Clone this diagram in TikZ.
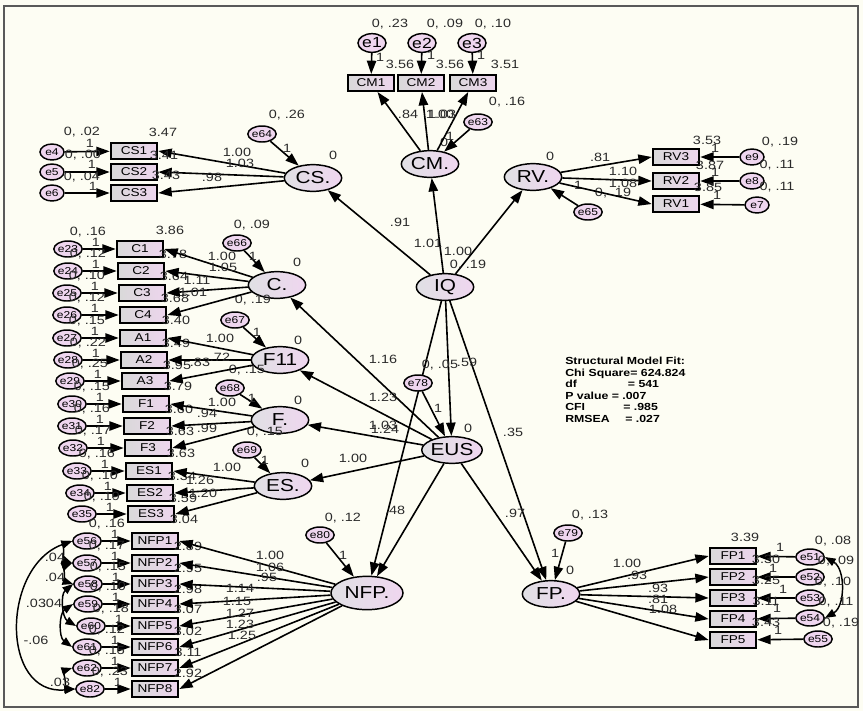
\documentclass[tikz,border=0pt]{standalone}
\usepackage{fontspec}
\setmainfont[FakeStretch=1.2]{Liberation Sans}
\usetikzlibrary{arrows.meta,shapes.geometric}
\definecolor{bgcream}{HTML}{FDFDF3}
\definecolor{boxgray}{HTML}{D9D9D9}
\definecolor{boxpink}{HTML}{EDD5ED}
\definecolor{latgray}{HTML}{E0E0E4}
\definecolor{latpink}{HTML}{EFD6EF}
\definecolor{numgray}{HTML}{2A2A2A}
\tikzset{
  regarrow/.style={-{Triangle[length=10pt,width=7pt]}, line width=1.2pt},
  covarrow/.style={{Triangle[length=8pt,width=6pt]}-{Triangle[length=8pt,width=6pt]}, line width=1.1pt},
  obsbox/.style={draw, line width=1.5pt, left color=boxgray, right color=boxpink, minimum width=35pt, minimum height=12pt, inner sep=0pt, font=\fontsize{8.5}{9}\selectfont},
  latnode/.style={ellipse, draw, line width=1.1pt, left color=latgray, right color=latpink, minimum width=43pt, minimum height=20pt, inner sep=0pt, font=\fontsize{13}{13}\selectfont},
  errnode/.style={ellipse, draw, line width=1.1pt, fill=latpink, minimum width=18pt, minimum height=12pt, inner sep=0pt, font=\fontsize{7.5}{8}\selectfont},
  errbig/.style={errnode, minimum width=21pt, minimum height=14pt, font=\fontsize{11}{11}\selectfont},
  numlbl/.style={font=\fontsize{9}{9}\selectfont, text=numgray, inner sep=0pt},
  fitnote/.style={font=\bfseries\fontsize{7.7}{8.6}\selectfont, align=left, inner sep=0pt, anchor=north west}
}
\begin{document}
\begin{tikzpicture}[x=0.75pt, y=-0.75pt]
  \useasboundingbox (0,0) rectangle (863,711);
  \fill[bgcream] (0,0) rectangle (863,711);
  \draw[line width=1.2pt, black!65] (4,6) rectangle (858,707);

  % latent variables
  \node[latnode] (IQ) at (445,287) {IQ};
  \node[latnode] (EUS) at (452,450) {EUS};
  \node[latnode] (CMl) at (430,164) {CM.};
  \node[latnode] (CSl) at (313,178) {CS.};
  \node[latnode] (RVl) at (533,177) {RV.};
  \node[latnode] (Cl) at (277,285) {C.};
  \node[latnode] (F11l) at (280,360) {F11};
  \node[latnode] (Fl) at (280,420) {F.};
  \node[latnode] (ESl) at (283,486) {ES.};
  \node[latnode, minimum width=54pt, minimum height=25pt] (NFPl) at (367,593) {NFP.};
  \node[latnode] (FPl) at (551,594) {FP.};

  % structural paths
  \draw[regarrow] (IQ) -- (CSl);
  \draw[regarrow] (IQ) -- (CMl);
  \draw[regarrow] (IQ) -- (RVl);
  \draw[regarrow] (IQ) -- (EUS);
  \draw[regarrow] (IQ) -- (NFPl);
  \draw[regarrow] (IQ) -- (FPl);
  \draw[regarrow] (EUS) -- (Cl);
  \draw[regarrow] (EUS) -- (F11l);
  \draw[regarrow] (EUS) -- (Fl);
  \draw[regarrow] (EUS) -- (ESl);
  \draw[regarrow] (EUS) -- (NFPl);
  \draw[regarrow] (EUS) -- (FPl);
  \node[numlbl] (pCS) at (400,222) {.91};
  \node[numlbl] (pCM) at (428,243) {1.01};
  \node[numlbl] (pRV) at (458,251) {1.00};
  \node[numlbl] (vIQ) at (468,265) {0, .19};
  \node[numlbl] (pEUS) at (467,362) {.59};
  \node[numlbl] (pFPa) at (513,432) {.35};
  \node[numlbl] (pC) at (383,359) {1.16};
  \node[numlbl] (pF11) at (383,397) {1.23};
  \node[numlbl] (pFa) at (383,425) {1.03};
  \node[numlbl] (pFb) at (385,429) {1.24};
  \node[numlbl] (pES) at (353,458) {1.00};
  \node[numlbl] (pNFP) at (395,510) {.48};
  \node[numlbl] (pFPb) at (515,513) {.97};

  % disturbances
  \node[errnode] (e64) at (262,134) {e64};
  \node[errnode] (e63) at (478,122) {e63};
  \node[errnode] (e65) at (588,212) {e65};
  \node[errnode] (e66) at (237,243) {e66};
  \node[errnode] (e67) at (235,320) {e67};
  \node[errnode] (e68) at (230,388) {e68};
  \node[errnode] (e69) at (247,450) {e69};
  \node[errnode] (e78) at (418,383) {e78};
  \node[errnode] (e80) at (320,535) {e80};
  \node[errnode] (e79) at (568,533) {e79};
  \draw[regarrow] (e64) -- (CSl);
  \draw[regarrow] (e63) -- (CMl);
  \draw[regarrow] (e65) -- (RVl);
  \draw[regarrow] (e66) -- (Cl);
  \draw[regarrow] (e67) -- (F11l);
  \draw[regarrow] (e68) -- (Fl);
  \draw[regarrow] (e69) -- (ESl);
  \draw[regarrow] (e78) -- (EUS);
  \draw[regarrow] (e80) -- (NFPl);
  \draw[regarrow] (e79) -- (FPl);
  \node[numlbl] (v64) at (287,115) {0, .26};
  \node[numlbl] (w64) at (287,148) {1};
  \node[numlbl] (mCS) at (333,155) {0};
  \node[numlbl] (v63) at (507,102) {0, .16};
  \node[numlbl] (mCM) at (444,142) {0};
  \node[numlbl] (w63) at (450,136) {1};
  \node[numlbl] (v65) at (613,193) {0, .19};
  \node[numlbl] (w65) at (578,185) {1};
  \node[numlbl] (mRV) at (550,156) {0};
  \node[numlbl] (v66) at (252,225) {0, .09};
  \node[numlbl] (w66) at (253,256) {1};
  \node[numlbl] (mC) at (297,262) {0};
  \node[numlbl] (v67) at (253,300) {0, .19};
  \node[numlbl] (w67) at (257,332) {1};
  \node[numlbl] (mF11) at (298,340) {0};
  \node[numlbl] (v68) at (247,370) {0, .15};
  \node[numlbl] (w68) at (252,398) {1};
  \node[numlbl] (mF) at (298,400) {0};
  \node[numlbl] (v69) at (265,432) {0, .15};
  \node[numlbl] (w69) at (265,460) {1};
  \node[numlbl] (mES) at (305,463) {0};
  \node[numlbl] (v78) at (440,365) {0, .05};
  \node[numlbl] (w78) at (438,408) {1};
  \node[numlbl] (mEUS) at (468,428) {0};
  \node[numlbl] (v80) at (343,518) {0, .12};
  \node[numlbl] (w80) at (343,555) {1};
  \node[numlbl] (v79) at (590,515) {0, .13};
  \node[numlbl] (w79) at (555,553) {1};
  \node[numlbl] (mFP) at (570,570) {0};

  % CM indicators
  \node[obsbox] (CM1) at (371,83) {CM1};
  \node[obsbox] (CM2) at (421,83) {CM2};
  \node[obsbox] (CM3) at (473,83) {CM3};
  \node[errbig] (e1) at (372,43) {e1};
  \node[errbig] (e2) at (422,43) {e2};
  \node[errbig] (e3) at (472,43) {e3};
  \draw[regarrow] (e1) -- (CM1);
  \draw[regarrow] (e2) -- (CM2);
  \draw[regarrow] (e3) -- (CM3);
  \draw[regarrow] (CMl) -- (CM1);
  \draw[regarrow] (CMl) -- (CM2);
  \draw[regarrow] (CMl) -- (CM3);
  \node[numlbl] (v1) at (390,24) {0, .23};
  \node[numlbl] (v2) at (445,24) {0, .09};
  \node[numlbl] (v3) at (493,24) {0, .10};
  \node[numlbl] (w1) at (380,57) {1};
  \node[numlbl] (w2) at (431,55) {1};
  \node[numlbl] (w3) at (481,55) {1};
  \node[numlbl] (i1) at (400,64) {3.56};
  \node[numlbl] (i2) at (450,64) {3.56};
  \node[numlbl] (i3) at (505,64) {3.51};
  \node[numlbl] (lCM1) at (408,114) {.84};
  \node[numlbl] (lCM2a) at (440,114) {1.00};
  \node[numlbl] (lCM2b) at (442,114) {1.03};

  % CS indicators
  \node[obsbox] (CS1) at (134,151) {CS1};
  \node[obsbox] (CS2) at (134,172) {CS2};
  \node[obsbox] (CS3) at (134,193) {CS3};
  \node[errnode] (e4) at (52,152) {e4};
  \node[errnode] (e5) at (52,172) {e5};
  \node[errnode] (e6) at (52,193) {e6};
  \draw[regarrow] (e4) -- (CS1);
  \draw[regarrow] (e5) -- (CS2);
  \draw[regarrow] (e6) -- (CS3);
  \draw[regarrow] (CSl) -- (CS1.east);
  \draw[regarrow] (CSl) -- (CS2.east);
  \draw[regarrow] (CSl) -- (CS3.east);
  \node[numlbl] (v4) at (82,132) {0, .02};
  \node[numlbl] (v5) at (83,155) {0, .00};
  \node[numlbl] (v6) at (82,177) {0, .04};
  \node[numlbl] (w4) at (90,143) {1};
  \node[numlbl] (w5) at (92,164) {1};
  \node[numlbl] (w6) at (93,186) {1};
  \node[numlbl] (i4) at (163,132) {3.47};
  \node[numlbl] (i5) at (164,155) {3.41};
  \node[numlbl] (i6) at (166,175) {3.43};
  \node[numlbl] (lCS1) at (237,152) {1.00};
  \node[numlbl] (lCS2) at (240,163) {1.03};
  \node[numlbl] (lCS3) at (212,177) {.98};

  % RV indicators
  \node[obsbox] (RV3) at (676,157) {RV3};
  \node[obsbox] (RV2) at (676,181) {RV2};
  \node[obsbox] (RV1) at (676,204) {RV1};
  \node[errnode] (e9) at (752,157) {e9};
  \node[errnode] (e8) at (752,181) {e8};
  \node[errnode] (e7) at (757,205) {e7};
  \draw[regarrow] (e9) -- (RV3);
  \draw[regarrow] (e8) -- (RV2);
  \draw[regarrow] (e7) -- (RV1);
  \draw[regarrow] (RVl) -- (RV3.west);
  \draw[regarrow] (RVl) -- (RV2.west);
  \draw[regarrow] (RVl) -- (RV1.west);
  \node[numlbl] (v9) at (780,142) {0, .19};
  \node[numlbl] (v8) at (777,165) {0, .11};
  \node[numlbl] (v7) at (777,187) {0, .11};
  \node[numlbl] (w9) at (715,148) {1};
  \node[numlbl] (w8) at (715,172) {1};
  \node[numlbl] (w7) at (717,195) {1};
  \node[numlbl] (i9) at (707,140) {3.53};
  \node[numlbl] (i8) at (710,165) {3.87};
  \node[numlbl] (i7) at (708,187) {3.85};
  \node[numlbl] (lRV3) at (600,157) {.81};
  \node[numlbl] (lRV2) at (623,171) {1.10};
  \node[numlbl] (lRV1) at (623,183) {1.08};

  % left column indicators
  \foreach \bx/\by/\bt/\en/\ex/\ev/\iv in {
      140/249/C1/e23/68/.16/3.78, 141/271/C2/e24/68/.12/3.64,
      142/293/C3/e25/67/.10/3.68, 143/315/C4/e26/67/.12/3.40,
      143/338/A1/e27/67/.15/3.49, 144/360/A2/e28/68/.22/3.95,
      145/381/A3/e29/70/.25/3.79, 146/404/F1/e30/72/.15/3.60,
      147/426/F2/e31/72/.16/3.63, 148/448/F3/e32/73/.17/3.63,
      149/471/ES1/e33/77/.16/3.34, 150/493/ES2/e34/80/.10/3.59,
      151/514/ES3/e35/82/.19/3.04, 155/541/NFP1/e56/87/.16/2.89,
      155/563/NFP2/e57/87/.17/2.95, 155/584/NFP3/e58/88/.15/2.98,
      155/604/NFP4/e59/88/.10/3.07, 155/626/NFP5/e60/91/.18/3.02,
      155/647/NFP6/e61/87/.12/3.11, 155/668/NFP7/e62/87/.15/2.92,
      155/689/NFP8/e82/90/.23/{}} {
    \node[obsbox] (\bt) at (\bx,\by) {\bt};
    \node[errnode] (\en) at (\ex,\by) {\en};
    \draw[regarrow] (\en) -- (\bt);
    \node[numlbl] (v\en) at (\ex+20,\by-17) {0, \ev};
    \node[numlbl] (w\en) at (\ex+28,\by-7) {1};
    \node[numlbl] (i\bt) at (\bx+33,\by+5) {\iv};
  }
  \node[numlbl] (iC0) at (170,230) {3.86};

  \draw[regarrow] (Cl) -- (C1.east);
  \draw[regarrow] (Cl) -- (C2.east);
  \draw[regarrow] (Cl) -- (C3.east);
  \draw[regarrow] (Cl) -- (C4.east);
  \draw[regarrow] (F11l) -- (A1.east);
  \draw[regarrow] (F11l) -- (A2.east);
  \draw[regarrow] (F11l) -- (A3.east);
  \draw[regarrow] (Fl) -- (F1.east);
  \draw[regarrow] (Fl) -- (F2.east);
  \draw[regarrow] (Fl) -- (F3.east);
  \draw[regarrow] (ESl) -- (ES1.east);
  \draw[regarrow] (ESl) -- (ES2.east);
  \draw[regarrow] (ESl) -- (ES3.east);
  \draw[regarrow] (NFPl) -- (NFP1.east);
  \draw[regarrow] (NFPl) -- (NFP2.east);
  \draw[regarrow] (NFPl) -- (NFP3.east);
  \draw[regarrow] (NFPl) -- (NFP4.east);
  \draw[regarrow] (NFPl) -- (NFP5.east);
  \draw[regarrow] (NFPl) -- (NFP6.east);
  \draw[regarrow] (NFPl) -- (NFP7.east);
  \draw[regarrow] (NFPl) -- (NFP8.east);
  \node[numlbl] (lC1) at (222,256) {1.00};
  \node[numlbl] (lC2) at (223,267) {1.05};
  \node[numlbl] (lC3) at (197,280) {1.11};
  \node[numlbl] (lC4) at (193,292) {1.01};
  \node[numlbl] (lA1) at (220,338) {1.00};
  \node[numlbl] (lA2) at (220,357) {.72};
  \node[numlbl] (lA3) at (200,362) {.83};
  \node[numlbl] (lF1) at (222,402) {1.00};
  \node[numlbl] (lF2) at (207,413) {.94};
  \node[numlbl] (lF3) at (207,428) {.99};
  \node[numlbl] (lES1) at (227,467) {1.00};
  \node[numlbl] (lES2) at (200,480) {1.26};
  \node[numlbl] (lES3) at (203,493) {1.20};
  \node[numlbl] (lN1) at (270,555) {1.00};
  \node[numlbl] (lN2) at (270,567) {1.06};
  \node[numlbl] (lN3) at (267,577) {.95};
  \node[numlbl] (lN4) at (240,588) {1.14};
  \node[numlbl] (lN5) at (237,601) {1.15};
  \node[numlbl] (lN6) at (240,613) {1.27};
  \node[numlbl] (lN7) at (240,624) {1.23};
  \node[numlbl] (lN8) at (242,635) {1.25};

  % NFP error covariances
  \draw[covarrow] (e56.west) to[bend right=70] (e57.west);
  \draw[covarrow] (e57.west) to[bend right=70] (e58.west);
  \draw[covarrow] (e58.west) to[bend right=55] (e60.west);
  \draw[covarrow] (e59.west) to[bend right=55] (e61.west);
  \draw[covarrow] (e56.west) to[out=200, in=185, looseness=1.3] (e82.west);
  \draw[covarrow] (e62.west) to[bend right=80] (e82.west);
  \node[numlbl] (c1) at (55,557) {.04};
  \node[numlbl] (c2) at (55,577) {.04};
  \node[numlbl] (c3) at (36,603) {.03};
  \node[numlbl] (c4) at (52,603) {.04};
  \node[numlbl] (c5) at (36,640) {-.06};
  \node[numlbl] (c6) at (60,682) {.03};

  % FP indicators
  \node[obsbox] (FP1) at (733,556) {FP1};
  \node[obsbox] (FP2) at (733,577) {FP2};
  \node[obsbox] (FP3) at (733,598) {FP3};
  \node[obsbox] (FP4) at (733,619) {FP4};
  \node[obsbox] (FP5) at (733,640) {FP5};
  \node[errnode] (e51) at (810,557) {e51};
  \node[errnode] (e52) at (810,577) {e52};
  \node[errnode] (e53) at (810,598) {e53};
  \node[errnode] (e54) at (810,618) {e54};
  \node[errnode] (e55) at (818,639) {e55};
  \draw[regarrow] (e51) -- (FP1);
  \draw[regarrow] (e52) -- (FP2);
  \draw[regarrow] (e53) -- (FP3);
  \draw[regarrow] (e54) -- (FP4);
  \draw[regarrow] (e55) -- (FP5);
  \draw[regarrow] (FPl) -- (FP1.west);
  \draw[regarrow] (FPl) -- (FP2.west);
  \draw[regarrow] (FPl) -- (FP3.west);
  \draw[regarrow] (FPl) -- (FP4.west);
  \draw[regarrow] (FPl) -- (FP5.west);
  \draw[covarrow] (e51.east) to[bend left=60] (e54.east);
  \node[numlbl] (v51) at (833,541) {0, .08};
  \node[numlbl] (v52) at (836,561) {0, .09};
  \node[numlbl] (v53) at (833,582) {0, .10};
  \node[numlbl] (v54) at (836,602) {0, .11};
  \node[numlbl] (v55) at (841,623) {0, .19};
  \node[numlbl] (w51) at (780,547) {1};
  \node[numlbl] (w52) at (773,568) {1};
  \node[numlbl] (w53) at (783,589) {1};
  \node[numlbl] (w54) at (777,608) {1};
  \node[numlbl] (w55) at (778,630) {1};
  \node[numlbl] (iFP0) at (745,537) {3.39};
  \node[numlbl] (iFP1) at (766,559) {3.30};
  \node[numlbl] (iFP2) at (766,580) {3.25};
  \node[numlbl] (iFP3) at (766,601) {3.11};
  \node[numlbl] (iFP4) at (766,622) {3.43};
  \node[numlbl] (lFP1) at (627,563) {1.00};
  \node[numlbl] (lFP2) at (637,575) {.93};
  \node[numlbl] (lFP3) at (658,588) {.93};
  \node[numlbl] (lFP4) at (658,599) {.81};
  \node[numlbl] (lFP5) at (663,609) {1.08};

  % model fit
  \node[fitnote] (fit) at (565,357) {Structural Model Fit:\\
    Chi Square= 624.824\\
    \makebox[47pt][l]{df}= 541\\
    P value = .007\\
    \makebox[43.5pt][l]{CFI}= .985\\
    \makebox[45pt][l]{RMSEA}= .027};
\end{tikzpicture}
\end{document}
